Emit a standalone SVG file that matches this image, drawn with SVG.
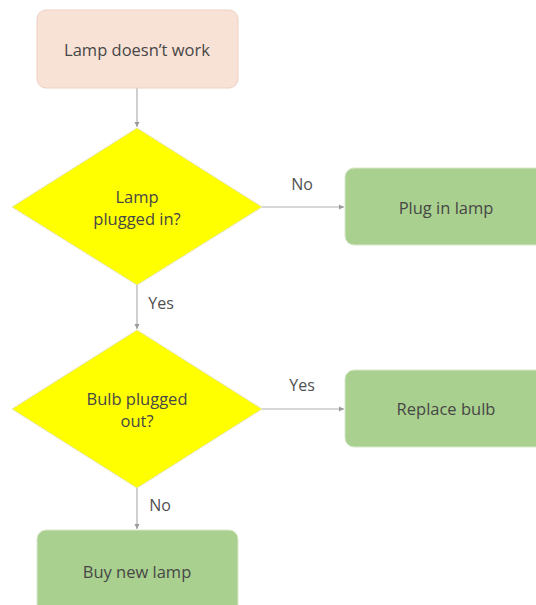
<svg xmlns="http://www.w3.org/2000/svg" width="536" height="605" viewBox="0 0 536 605">
<defs>
<marker id="ah" markerWidth="6" markerHeight="6" refX="5" refY="3" orient="auto" markerUnits="userSpaceOnUse">
<path d="M0,0.5 L5,3 L0,5.5 Z" fill="#9a9a9a"/>
</marker>
<style>
.t{font-family:"Open Sans","Liberation Sans",sans-serif;font-size:16.5px;fill:#474747;text-anchor:middle;dominant-baseline:central}
.lbl{font-family:"Open Sans","Liberation Sans",sans-serif;font-size:16px;fill:#505050;text-anchor:middle;dominant-baseline:central}
.green{fill:#a9d08e;stroke:#d9e8cc;stroke-width:1}
.dia{fill:#ffff00;stroke:#e6e6b0;stroke-width:1}
.c{stroke:#b0b0b0;stroke-width:1.2;fill:none;marker-end:url(#ah)}
</style>
</defs>
<rect width="536" height="605" fill="#ffffff"/>
<g id="connectors">
<line class="c" x1="137" y1="88" x2="137" y2="127"/>
<line class="c" x1="262" y1="207" x2="344" y2="207"/>
<line class="c" x1="137" y1="285" x2="137" y2="329"/>
<line class="c" x1="262" y1="409" x2="344" y2="409"/>
<line class="c" x1="137" y1="488" x2="137" y2="529"/>
<text class="lbl" x="302" y="184">No</text>
<text class="lbl" x="161" y="303">Yes</text>
<text class="lbl" x="302" y="385">Yes</text>
<text class="lbl" x="160" y="505">No</text>
</g>
<g id="start">
<rect x="37" y="10" width="201" height="78" rx="9" fill="#f8e1d5" stroke="#ecd2c4"/>
<text class="t" x="137" y="49">Lamp doesn’t work</text>
</g>
<g id="q1">
<polygon class="dia" points="137,128 262,207 137,285 12,207"/>
<text class="t" x="137" y="196">Lamp</text>
<text class="t" x="137" y="218">plugged in?</text>
</g>
<g id="plug">
<rect class="green" x="345" y="168" width="200" height="77" rx="9"/>
<text class="t" x="446" y="207">Plug in lamp</text>
</g>
<g id="q2">
<polygon class="dia" points="137,330 262,409 137,488 12,409"/>
<text class="t" x="137" y="398">Bulb plugged</text>
<text class="t" x="137" y="420">out?</text>
</g>
<g id="replace">
<rect class="green" x="345" y="370" width="200" height="77" rx="9"/>
<text class="t" x="446" y="408">Replace bulb</text>
</g>
<g id="buy">
<rect class="green" x="37" y="530" width="201" height="85" rx="9"/>
<text class="t" x="137" y="571">Buy new lamp</text>
</g>
</svg>
